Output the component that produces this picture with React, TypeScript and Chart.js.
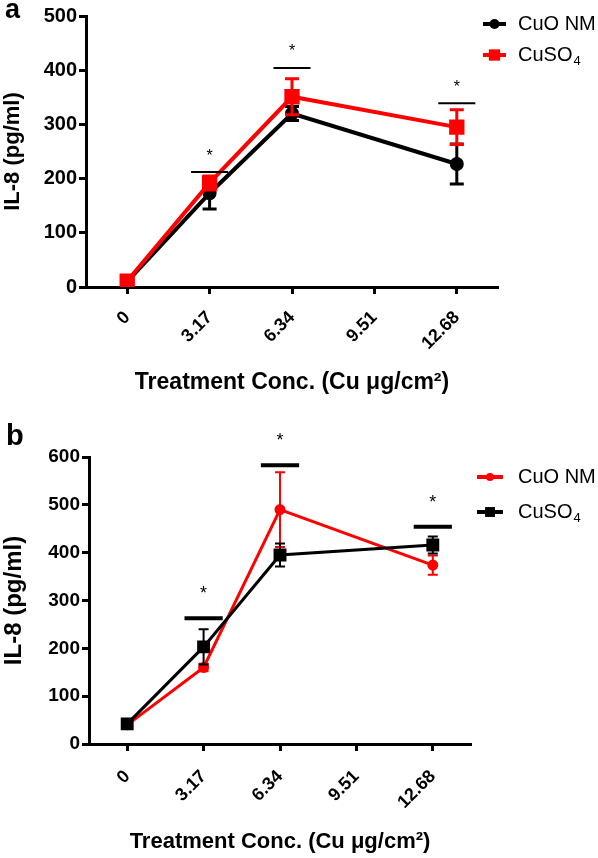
import React, { useEffect, useRef } from "react";
import { Chart, registerables } from "chart.js";

Chart.register(...registerables);

const categories = ["0", "3.17", "6.34", "9.51", "12.68"];
const seriesNames = ["CuO NM", "CuSO4"];

// Panel a
const aCuONM = [10, 173, 320, null, 227];
const aCuONMErr = [4, 29, 13, null, 37];
const aCuSO4 = [11, 192, 351, null, 295];
const aCuSO4Err = [4, 13, 33, null, 32];
const aSig = [null, 212, 404, null, 339];
const aYTicks = [0, 100, 200, 300, 400, 500];

// Panel b
const bCuONM = [40, 160, 490, null, 374];
const bCuONMErr = [3, 8, 78, null, 20];
const bCuSO4 = [42, 203, 395, null, 416];
const bCuSO4Err = [4, 37, 24, null, 18];
const bSig = [null, 263, 583, null, 454];
const bYTicks = [0, 100, 200, 300, 400, 500, 600];

const RED = "#ff0000";
const BLACK = "#000000";
const FONT = "'Liberation Sans', Arial, Helvetica, sans-serif";

const errorBarPlugin = {
  id: "errorBars",
  afterDatasetDraw(chart: any, args: any) {
    const ds: any = chart.data.datasets[args.index];
    if (!ds.errors) return;
    const meta = args.meta;
    const y = chart.scales.y;
    const ctx = chart.ctx;
    ctx.save();
    ctx.strokeStyle = ds.borderColor;
    ctx.lineWidth = ds.errWidth;
    ds.data.forEach((v: any, i: number) => {
      const e = ds.errors[i];
      if (v == null || e == null) return;
      const pt = meta.data[i];
      const x = pt.x;
      const yt = y.getPixelForValue(v + e);
      const yb = y.getPixelForValue(v - e);
      const c = ds.capHalf;
      ctx.beginPath();
      ctx.moveTo(x, yt);
      ctx.lineTo(x, yb);
      ctx.moveTo(x - c, yt);
      ctx.lineTo(x + c, yt);
      ctx.moveTo(x - c, yb);
      ctx.lineTo(x + c, yb);
      ctx.stroke();
    });
    ctx.restore();
  },
};

const extrasPlugin = {
  id: "extras",
  afterDraw(chart: any) {
    const o = chart.options.plugins.extras;
    const ctx = chart.ctx;
    const xs = chart.scales.x;
    const ys = chart.scales.y;
    const step = xs.getPixelForValue(1) - xs.getPixelForValue(0);
    ctx.save();
    // significance bars
    o.sig.forEach((v: any, i: number) => {
      if (v == null) return;
      const x = xs.getPixelForValue(i);
      const yy = ys.getPixelForValue(v);
      const hw = (step * o.sigFrac) / 2;
      ctx.strokeStyle = BLACK;
      ctx.lineWidth = o.sigWidth;
      ctx.beginPath();
      ctx.moveTo(x - hw, yy);
      ctx.lineTo(x + hw, yy);
      ctx.stroke();
      ctx.fillStyle = BLACK;
      ctx.font = `${o.starSize}px ${FONT}`;
      ctx.textAlign = "center";
      ctx.textBaseline = "middle";
      ctx.fillText("*", x, yy - o.starGap);
    });
    // panel letter
    ctx.fillStyle = BLACK;
    ctx.font = `bold ${o.letterSize}px ${FONT}`;
    ctx.textAlign = "left";
    ctx.textBaseline = "alphabetic";
    ctx.fillText(o.letter, o.letterX, o.letterY);
    // legend
    const ds = chart.data.datasets;
    o.legendOrder.forEach((di: number, k: number) => {
      const d: any = ds[di];
      const ly = o.legendY + k * o.legendGap;
      ctx.strokeStyle = d.borderColor;
      ctx.lineWidth = o.legendLine;
      ctx.beginPath();
      ctx.moveTo(o.legendX0, ly);
      ctx.lineTo(o.legendX1, ly);
      ctx.stroke();
      ctx.fillStyle = d.borderColor;
      const cx = (o.legendX0 + o.legendX1) / 2;
      const r = d.pointRadius;
      if (d.pointStyle === "rect") {
        const s = r * Math.SQRT1_2;
        ctx.fillRect(cx - s, ly - s, 2 * s, 2 * s);
      } else {
        ctx.beginPath();
        ctx.arc(cx, ly, r, 0, Math.PI * 2);
        ctx.fill();
      }
      ctx.fillStyle = BLACK;
      ctx.font = `${o.legendFont}px ${FONT}`;
      ctx.textAlign = "left";
      ctx.textBaseline = "middle";
      const name: string = d.label;
      if (name.endsWith("4")) {
        const main = name.slice(0, -1);
        ctx.fillText(main, o.legendTextX, ly);
        const w = ctx.measureText(main).width;
        ctx.font = `${Math.round(o.legendFont * 0.65)}px ${FONT}`;
        ctx.fillText("4", o.legendTextX + w + 1, ly + o.legendFont * 0.3);
      } else {
        ctx.fillText(name, o.legendTextX, ly);
      }
    });
    ctx.restore();
  },
};

function makeConfig(p: any) {
  return {
    type: "line",
    data: {
      labels: categories,
      datasets: p.datasets,
    },
    options: {
      responsive: false,
      animation: false,
      devicePixelRatio: 1,
      spanGaps: true,
      layout: { padding: p.padding },
      plugins: {
        legend: { display: false },
        tooltip: { enabled: false },
        title: { display: false },
        extras: p.extras,
      },
      scales: {
        x: {
          type: "category",
          offset: true,
          afterFit: (s: any) => {
            s.height = p.xHeight;
          },
          border: { display: true, color: BLACK, width: 3 },
          grid: {
            display: true,
            drawOnChartArea: false,
            drawTicks: true,
            tickLength: 7,
            tickWidth: 3,
            tickColor: BLACK,
            offset: false,
          },
          ticks: {
            autoSkip: false,
            minRotation: 45,
            maxRotation: 45,
            color: BLACK,
            padding: p.xTickPad,
            font: { family: FONT, size: p.xTickFont, weight: "bold" },
          },
          title: {
            display: true,
            text: "Treatment Conc. (Cu \u03bcg/cm\u00b2)",
            color: BLACK,
            padding: { top: 0, bottom: p.xTitlePad },
            font: { family: FONT, size: p.xTitleFont, weight: "bold" },
          },
        },
        y: {
          min: 0,
          max: p.yTicks[p.yTicks.length - 1],
          afterFit: (s: any) => {
            s.width = p.yWidth;
          },
          afterBuildTicks: (s: any) => {
            s.ticks = p.yTicks.map((v: number) => ({ value: v }));
          },
          border: { display: true, color: BLACK, width: 3 },
          grid: {
            display: true,
            drawOnChartArea: false,
            drawTicks: true,
            tickLength: 7,
            tickWidth: 3,
            tickColor: BLACK,
          },
          ticks: {
            color: BLACK,
            padding: 2,
            font: { family: FONT, size: p.yTickFont, weight: "bold" },
          },
          title: {
            display: true,
            text: "IL-8 (pg/ml)",
            color: BLACK,
            padding: { top: p.yTitlePad, bottom: 0 },
            font: { family: FONT, size: p.yTitleFont, weight: "bold" },
          },
        },
      },
    },
    plugins: [errorBarPlugin, extrasPlugin],
  };
}

function Panel({ config, width, height, top }: any) {
  const ref = useRef<HTMLCanvasElement | null>(null);
  useEffect(() => {
    if (!ref.current) return;
    const chart = new Chart(ref.current, config);
    return () => chart.destroy();
  }, []);
  return (
    <canvas
      ref={ref}
      width={width}
      height={height}
      style={{ position: "absolute", left: 0, top, width, height }}
    />
  );
}

export default function App() {
  const cfgA = makeConfig({
    padding: { left: 0, right: 100, top: 16, bottom: 20 },
    xHeight: 113,
    yWidth: 86,
    xTickPad: 13,
    xTickFont: 18,
    yTickFont: 20,
    xTitleFont: 23,
    xTitlePad: 4,
    yTitleFont: 22,
    yTitlePad: 0,
    yTicks: aYTicks,
    datasets: [
      {
        label: seriesNames[0],
        data: aCuONM,
        errors: aCuONMErr,
        borderColor: BLACK,
        backgroundColor: BLACK,
        borderWidth: 4,
        pointStyle: "circle",
        pointRadius: 5,
        errWidth: 3,
        capHalf: 7,
        order: 1,
      },
      {
        label: seriesNames[1],
        data: aCuSO4,
        errors: aCuSO4Err,
        borderColor: RED,
        backgroundColor: RED,
        borderWidth: 4,
        pointStyle: "rect",
        pointRadius: 8,
        errWidth: 3,
        capHalf: 7,
        order: 0,
      },
    ],
    extras: {
      sig: aSig,
      sigFrac: 0.45,
      sigWidth: 2,
      starSize: 16,
      starGap: 16,
      letter: "a",
      letterSize: 27,
      letterX: 5,
      letterY: 18,
      legendOrder: [0, 1],
      legendY: 24,
      legendGap: 31,
      legendX0: 483,
      legendX1: 506,
      legendLine: 4,
      legendFont: 20,
      legendTextX: 518,
    },
  });

  const cfgB = makeConfig({
    padding: { left: 0, right: 127, top: 37, bottom: 0 },
    xHeight: 114,
    yWidth: 89,
    xTickPad: 15,
    xTickFont: 18,
    yTickFont: 19,
    xTitleFont: 22,
    xTitlePad: 3,
    yTitleFont: 24,
    yTitlePad: 0,
    yTicks: bYTicks,
    datasets: [
      {
        label: seriesNames[0],
        data: bCuONM,
        errors: bCuONMErr,
        borderColor: RED,
        backgroundColor: RED,
        borderWidth: 3,
        pointStyle: "circle",
        pointRadius: 4,
        errWidth: 2,
        capHalf: 5,
        order: 1,
      },
      {
        label: seriesNames[1],
        data: bCuSO4,
        errors: bCuSO4Err,
        borderColor: BLACK,
        backgroundColor: BLACK,
        borderWidth: 3,
        pointStyle: "rect",
        pointRadius: 7,
        errWidth: 2,
        capHalf: 5,
        order: 0,
      },
    ],
    extras: {
      sig: bSig,
      sigFrac: 0.5,
      sigWidth: 4,
      starSize: 18,
      starGap: 24,
      letter: "b",
      letterSize: 29,
      letterX: 6,
      letterY: 25,
      legendOrder: [0, 1],
      legendY: 57,
      legendGap: 35,
      legendX0: 477,
      legendX1: 503,
      legendLine: 4,
      legendFont: 20,
      legendTextX: 518,
    },
  });

  return (
    <div
      style={{
        position: "absolute",
        left: 0,
        top: 0,
        width: 598,
        height: 858,
        background: "#ffffff",
        overflow: "hidden",
      }}
    >
      <Panel config={cfgA} width={598} height={420} top={0} />
      <Panel config={cfgB} width={598} height={438} top={420} />
    </div>
  );
}
